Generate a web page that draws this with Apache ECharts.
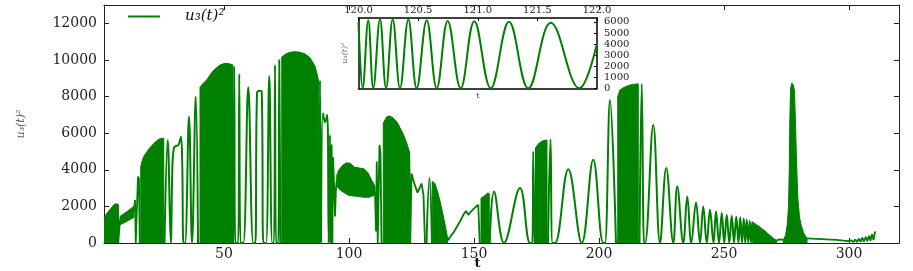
<!DOCTYPE html>
<html><head><meta charset="utf-8">
<script src="https://cdn.jsdelivr.net/npm/echarts@6/dist/echarts.min.js"></script>
<style>html,body{margin:0;padding:0;background:#fff}#c{width:913px;height:271px}</style>
</head><body><div id="c"></div>
<script>
// ---------------- data ----------------
const seriesName = 'u₃(t)²';
const xTicks = [50, 100, 150, 200, 250, 300];
const yTicks = [0, 2000, 4000, 6000, 8000, 10000, 12000];
const insetXTicks = [120, 120.5, 121, 121.5, 122];
const insetYTicks = [0, 1000, 2000, 3000, 4000, 5000, 6000];

// dense oscillation blocks: upper envelope [t, value]; lower envelope (omitted = 0)
const blocks = [
  { upper: [[2,1300],[3,1600],[4.5,1850],[6,2100],[7,2150],[7.6,2100]] },
  { upper: [[8.4,1450],[10,1600],[12,1800],[13.9,2000]],
    lower: [[8.4,1000],[10,1100],[12,1250],[13.9,1400]] },
  { upper: [[16.7,4180],[17.3,4500],[18,4750],[19,4950],[20,5150],[21,5300],[22,5450],[23,5570],[24,5670],[25,5720],[25.9,5720]] },
  { upper: [[40.4,8500],[41.7,8730],[43.1,8900],[44.4,9180],[45.7,9410],[47.1,9580],[48.4,9720],[50.4,9820],[52.4,9780],[53.6,9720]] },
  { upper: [[73.1,10150],[74.4,10300],[76.4,10420],[78.4,10450],[80.4,10420],[82.4,10330],[84.4,10120],[86.4,9650],[87.3,9200],[87.9,8800]] },
  { upper: [[95.1,3700],[96,4000],[97.5,4250],[99,4380],[100.5,4350],[102,4150],[104,4100],[106,4050],[107.5,3850],[109,3450],[110.4,3100]],
    lower: [[95.1,3100],[96.5,2900],[98,2750],[100,2600],[103,2550],[106,2500],[108,2500],[110,2600],[110.4,2800]] },
  { upper: [[113.7,6545],[115.1,6900],[116.4,6940],[117.7,6815],[119.1,6630],[120.4,6300],[121.7,5950],[123.1,5450],[124.1,5000]] },
  { upper: [[133.3,3360],[134.3,3270],[135.6,2730],[136.9,2000],[138.3,1090],[139.4,300]] },
  { upper: [[152.8,2450],[154,2550],[155.5,2730],[156.1,2700]] },
  { upper: [[174.6,5200],[176,5450],[177.5,5580],[179.2,5630]] },
  { upper: [[207.5,8000],[208.4,8360],[210,8500],[212.4,8630],[215.1,8690],[215.7,8690]] },
  { upper: [[261.7,1120],[263,1000],[264.5,860],[266,700],[267.5,520],[269,340],[270.3,200],[271.1,150]] },
  { upper: [[273.7,180],[274.6,400],[275.3,1000],[275.8,2000],[276.1,4000],[276.3,6500],[276.6,8400],[277.1,8730],[277.7,8650],[278.2,8300],[278.6,6500],[279.0,4500],[279.5,2500],[280.2,1400],[281,900],[282,500],[283.2,250]] }
];

// individual oscillation arches (peaks and zeros)
const arches = [
  [[26.2,0],[27.5,5630],[28.7,0],[29.4,4300],[30.0,5200],[30.8,5300],[31.6,5330],[32.2,5500],[32.8,5800],[33.3,4300],[33.8,0],[34.4,0],[36.0,6900],[37.2,0],[38.7,8000],[39.6,0]],
  [[53.7,0],[54.1,9630],[54.5,0],[55.7,0],[56.1,9230],[56.6,0],[57.7,0],[59.7,8510],[61.7,0],[62.5,0],[63.2,8200],[64.2,8320],[65.1,8250],[65.8,0],[66.8,0],[68.1,9120],[69.3,0],[70.0,0],[70.4,9720],[70.8,0],[71.7,0],[72.1,10000],[72.5,0]],
  [[88.0,0],[88.4,8880],[88.8,0],[89.0,0],[89.6,7090],[90.4,6600],[91.3,7000],[91.9,0],[92.1,0],[92.4,5900],[92.7,0],[93.0,5360],[93.3,0]],
  [[131.0,0],[132.2,3545],[133.2,0]],
  [[156.3,0],[158.0,2815],[162.0,0],[168.4,3000],[172.4,0],[173.3,0],[173.7,5000],[174.2,0]],
  [[179.6,0],[180.6,5670],[181.4,0],[182.4,0],[187.7,4035],[193.1,0],[197.7,4545],[201.7,0],[202.4,0],[204.4,7815],[206.8,0]],
  [[216.2,0],[217.1,8690],[218.0,0],[218.4,0],[221.7,6450],[224.4,0],[226.9,4090],[229.7,0],[231.3,3090],[233.7,0],[235.3,2540],[236.9,0],[238.8,2215],[240.4,0],[241.7,2000],[243.1,0],[244.4,1815],[245.8,0],[246.8,1725],[248.0,0],[249.1,1636],[250.1,0],[251.1,1545],[252.1,0],[253.1,1490],[254.0,0],[254.9,1450],[255.8,0],[256.5,1400],[257.2,0],[257.9,1340],[258.5,0],[259.1,1280],[259.7,0],[260.3,1210],[260.8,0],[261.3,1150],[261.7,0]]
];

// connecting traces (slow parts)
const traces = [
  [[7.6,2100],[7.7,0],[8.1,0],[8.4,1270]],
  [[13.9,1700],[14.4,2350],[14.7,0],[15.3,0],[15.6,3630],[16.0,3500],[16.3,0]],
  [[93.3,0],[93.6,4700],[94.0,3300],[94.4,1450],[94.8,3000],[95.1,3400]],
  [[110.4,2800],[110.8,630],[111.1,4450],[111.5,0],[112.2,5360],[112.6,4900],[113.0,0]],
  [[124.1,5000],[124.5,0],[125.0,3800],[126.0,3300],[127.4,2750],[128.2,3000],[129.0,3250],[129.8,2600],[130.4,0]],
  [[139.4,300],[139.7,150],[140.5,350],[141.7,550],[143.0,850],[144.5,1200],[145.8,1550],[146.8,1750],[147.7,1540],[149.0,1750],[150.5,1950],[151.7,2090],[152.3,0]],
  [[271.1,150],[272,190],[273,180],[273.7,180]],
  [[283.2,250],[287,230],[291,200],[295,170],[299.5,100],[300.3,40],[301,150],[301.7,40],[302.5,190],[303.2,50],[303.9,240],[304.6,60],[305.3,290],[306,80],[306.7,340],[307.3,100],[308,400],[308.6,120],[309.2,480],[309.8,160],[310.4,600],[310.7,560]]
];

// inset: t in [120, 122]
const insetPts = [[120.0,6000],[120.035,0],[120.082,6150],[120.124,0],[120.180,6240],[120.231,0],[120.287,6240],[120.348,0],[120.418,6210],[120.488,0],[120.572,6150],[120.656,0],[120.748,6090],[120.857,0],[120.971,6060],[121.109,0],[121.262,6000],[121.424,0],[121.612,5920],[121.852,0],[122.0,4050]];

// ---------------- chart ----------------
const GREEN = '#008000';
const FONT = 'DejaVu Serif';
const joinSegs = segs => segs.reduce((acc, s, i) => i ? acc.concat([['-','-']], s) : acc.concat(s), []);
const plain = v => String(v);

const chart = echarts.init(document.getElementById('c'), null, {renderer: 'canvas'});
const axisCommon = {
  axisLine: {show: true, onZero: false, lineStyle: {color: '#222', width: 1}},
  splitLine: {show: false},
  nameMoveOverlap: false
};
chart.setOption({
  animation: false,
  backgroundColor: '#fff',
  legend: {
    left: 128, top: 9, padding: 0, itemWidth: 32, itemHeight: 2, icon: 'rect',
    data: [{name: seriesName}],
    textStyle: {fontFamily: FONT, fontStyle: 'italic', fontSize: 15, color: '#111', padding: [0,0,0,20]}
  },
  grid: [
    {left: 104, top: 5, width: 795, height: 238, outerBoundsMode: 'none', containLabel: false},
    {left: 358.5, top: 18, width: 238.5, height: 70.3, outerBoundsMode: 'none', containLabel: false,
     show: true, backgroundColor: '#fff', borderColor: 'transparent', z: 5}
  ],
  xAxis: [
    Object.assign({}, axisCommon, {type: 'value', gridIndex: 0, min: 2, max: 320, position: 'bottom',
      axisTick: {inside: true, length: 5, customValues: xTicks, lineStyle: {color: '#222'}},
      axisLabel: {customValues: xTicks, formatter: plain, fontFamily: FONT, fontSize: 14, color: '#222', margin: 4},
      name: 't', nameLocation: 'middle', nameGap: 14,
      nameTextStyle: {fontFamily: FONT, fontWeight: 'bold', fontSize: 13, color: '#111', padding: [0, 48, 0, 0]}}),
    Object.assign({}, axisCommon, {type: 'value', gridIndex: 0, min: 2, max: 320, position: 'top',
      axisTick: {inside: true, length: 5, customValues: xTicks, lineStyle: {color: '#222'}},
      axisLabel: {show: false}}),
    Object.assign({}, axisCommon, {type: 'value', gridIndex: 1, min: 120, max: 122, interval: 0.5, position: 'top', z: 6,
      axisLine: {show: true, onZero: false, lineStyle: {color: '#000', width: 1.5}},
      axisTick: {inside: true, length: 3, lineStyle: {color: '#000'}},
      axisLabel: {fontFamily: FONT, fontSize: 10, color: '#222', margin: 3, formatter: v => v.toFixed(1)}}),
    Object.assign({}, axisCommon, {type: 'value', gridIndex: 1, min: 120, max: 122, interval: 0.5, position: 'bottom', z: 6,
      axisLine: {show: true, onZero: false, lineStyle: {color: '#000', width: 1.5}},
      axisTick: {show: false}, axisLabel: {show: false},
      name: 't', nameLocation: 'middle', nameGap: 4,
      nameTextStyle: {fontFamily: FONT, fontSize: 8, color: '#444'}})
  ],
  yAxis: [
    Object.assign({}, axisCommon, {type: 'value', gridIndex: 0, min: 0, max: 13000, position: 'left',
      axisTick: {inside: true, length: 5, customValues: yTicks, lineStyle: {color: '#222'}},
      axisLabel: {customValues: yTicks, formatter: plain, fontFamily: FONT, fontSize: 14, color: '#222', margin: 7},
      name: seriesName, nameLocation: 'middle', nameGap: 77, nameRotate: 90,
      nameTextStyle: {fontFamily: FONT, fontStyle: 'italic', fontSize: 11, color: '#555'}}),
    Object.assign({}, axisCommon, {type: 'value', gridIndex: 0, min: 0, max: 13000, position: 'right',
      axisTick: {inside: true, length: 5, customValues: yTicks, lineStyle: {color: '#222'}},
      axisLabel: {show: false}}),
    Object.assign({}, axisCommon, {type: 'value', gridIndex: 1, min: 0, max: 6350, position: 'right', z: 6,
      axisLine: {show: true, onZero: false, lineStyle: {color: '#000', width: 1.5}},
      axisTick: {inside: true, length: 3, customValues: insetYTicks, lineStyle: {color: '#000'}},
      axisLabel: {customValues: insetYTicks, formatter: plain, fontFamily: FONT, fontSize: 10, color: '#222', margin: 7}}),
    Object.assign({}, axisCommon, {type: 'value', gridIndex: 1, min: 0, max: 6350, position: 'left', z: 6,
      axisLine: {show: true, onZero: false, lineStyle: {color: '#000', width: 1.5}},
      axisTick: {show: false}, axisLabel: {show: false},
      name: seriesName, nameLocation: 'middle', nameGap: 10, nameRotate: 90,
      nameTextStyle: {fontFamily: FONT, fontStyle: 'italic', fontSize: 8, color: '#666'}})
  ],
  series: [
    {
      type: 'custom', name: 'blocks', xAxisIndex: 0, yAxisIndex: 0, clip: true,
      data: blocks.map((b, i) => [b.upper[0][0], b.upper[0][1], i]),
      encode: {x: 0, y: 1},
      renderItem: function (params, api) {
        const b = blocks[api.value(2)];
        const up = b.upper;
        const lo = b.lower || [[up[0][0], 0], [up[up.length - 1][0], 0]];
        const pts = up.map(p => api.coord(p)).concat(lo.slice().reverse().map(p => api.coord(p)));
        return {type: 'polygon', shape: {points: pts}, style: {fill: GREEN, stroke: GREEN, lineWidth: 1}};
      }
    },
    {
      type: 'line', name: 'traces', xAxisIndex: 0, yAxisIndex: 0,
      data: joinSegs(traces), symbol: 'none', smooth: false, connectNulls: false,
      lineStyle: {color: GREEN, width: 1.8}, itemStyle: {color: GREEN}
    },
    {
      type: 'line', name: seriesName, xAxisIndex: 0, yAxisIndex: 0,
      data: joinSegs(arches), symbol: 'none', smooth: 0.4, connectNulls: false,
      lineStyle: {color: GREEN, width: 2}, itemStyle: {color: GREEN}
    },
    {
      type: 'line', name: 'inset', xAxisIndex: 2, yAxisIndex: 2, z: 7,
      data: insetPts, symbol: 'none', smooth: 0.4,
      lineStyle: {color: GREEN, width: 2}, itemStyle: {color: GREEN}
    }
  ]
});
</script></body></html>
